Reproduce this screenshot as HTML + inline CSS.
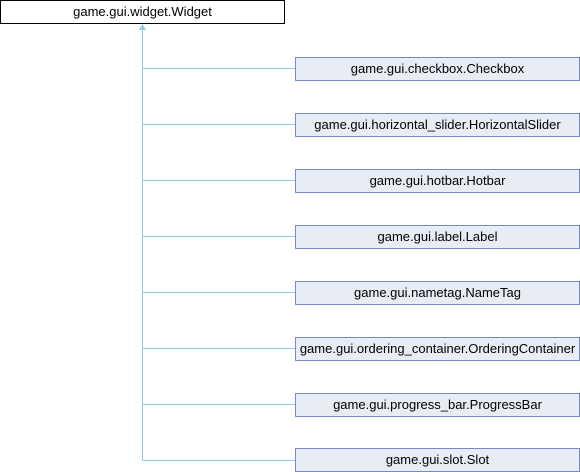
<!DOCTYPE html>
<html><head><style>
body{margin:0;width:580px;height:472px;background:#fff;position:relative;overflow:hidden;font-family:"Liberation Sans",sans-serif;font-size:13px;color:#000}
.b{position:absolute;box-sizing:border-box;height:24px;line-height:22px;text-align:center;white-space:nowrap}
.c{left:295px;width:285px;background:#e8ecf5;border:1px solid #7a8ac0}
</style></head><body>
<svg width="580" height="472" style="position:absolute;left:0;top:0">
<g stroke="#8fc9ea" stroke-width="1" fill="none">
<line x1="142.5" y1="30" x2="142.5" y2="460.5"/>
<line x1="142.5" y1="68.5" x2="295" y2="68.5"/>
<line x1="142.5" y1="124.5" x2="295" y2="124.5"/>
<line x1="142.5" y1="180.5" x2="295" y2="180.5"/>
<line x1="142.5" y1="236.5" x2="295" y2="236.5"/>
<line x1="142.5" y1="292.5" x2="295" y2="292.5"/>
<line x1="142.5" y1="348.5" x2="295" y2="348.5"/>
<line x1="142.5" y1="404.5" x2="295" y2="404.5"/>
<line x1="142.5" y1="460.5" x2="295" y2="460.5"/>
</g>
<polygon points="142.5,24 139,30 146,30" fill="#8fc9ea"/>
</svg>
<div class="b" style="left:0;top:0;width:285px;border:1px solid #000;background:#fff">game.gui.widget.Widget</div>
<div class="b c" style="top:57px">game.gui.checkbox.Checkbox</div>
<div class="b c" style="top:113px">game.gui.horizontal_slider.HorizontalSlider</div>
<div class="b c" style="top:169px">game.gui.hotbar.Hotbar</div>
<div class="b c" style="top:225px">game.gui.label.Label</div>
<div class="b c" style="top:281px">game.gui.nametag.NameTag</div>
<div class="b c" style="top:337px">game.gui.ordering_container.OrderingContainer</div>
<div class="b c" style="top:393px">game.gui.progress_bar.ProgressBar</div>
<div class="b c" style="top:448px">game.gui.slot.Slot</div>
</body></html>
